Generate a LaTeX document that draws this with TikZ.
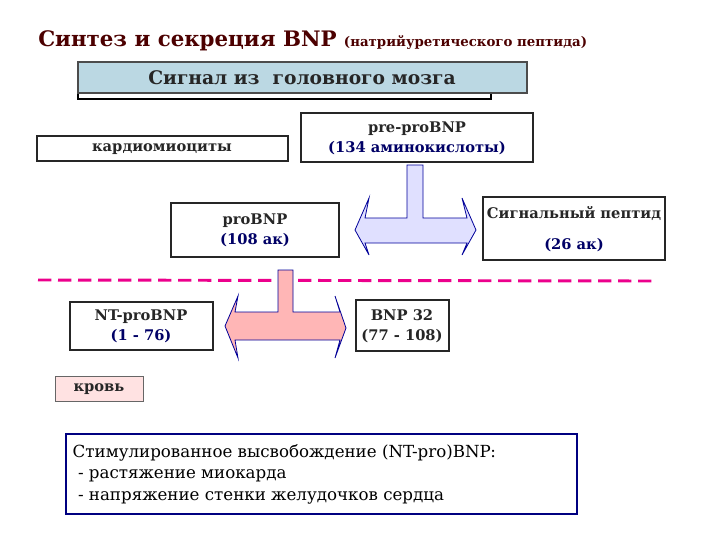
\documentclass[tikz,border=0pt]{standalone}
\usepackage{fontspec}
\setmainfont{DejaVu Serif}
\begin{document}
\begin{tikzpicture}[x=0.75pt,y=-0.75pt,
  bx/.style={draw=black!85,line width=0.8pt,fill=white},
  lbl/.style={font=\fontsize{11}{13}\selectfont\bfseries,align=center,text=black!85},
  nv/.style={text=blue!40!black}]
\useasboundingbox (0,0) rectangle (720,540);
\node[anchor=base west,text=red!30!black,inner sep=0] (t) at (38,46) {\fontsize{16}{18}\selectfont\bfseries Синтез и секреция BNP \fontsize{10}{12}\selectfont(натрийуретического пептида)};
% signal box
\draw[line width=0.8pt] (78,62) rectangle (491,99);
\filldraw[fill=cyan!25!teal!30,draw=black!70,line width=0.8pt] (78,62) rectangle (527,93);
\node[lbl,font=\fontsize{14}{16}\selectfont\bfseries] (sig) at (302,78) {Сигнал из\ \ головного мозга};
\draw[bx] (37,136) rectangle (288,161);
\node[lbl] (kard) at (162,149) {кардиомиоциты};
\draw[bx] (301,113) rectangle (533,162);
\node[lbl] (pre) at (417,138) {pre-proBNP\\[2pt]{\color{blue!40!black}(134 аминокислоты)}};
% blue arrow
\filldraw[fill=blue!12,draw=blue!60!black,line width=0.6pt]
 (407,165) -- (423,165) -- (423,218) -- (467,218) -- (462,198) -- (476,230) -- (462,255) -- (467,243)
 -- (365,243) -- (369,255) -- (355,230) -- (369,198) -- (365,218) -- (407,218) -- cycle;
\draw[bx] (171,203) rectangle (339,257);
\node[lbl] (pro) at (255,230) {proBNP\\[2pt]{\color{blue!40!black}(108 ак)}};
\draw[bx] (483,197) rectangle (665,260);
\node[lbl] (sp) at (574,229) {Сигнальный пептид\\[10pt]{\color{blue!40!black}(26 ак)}};
% dashed line
\draw[magenta,line width=2.2pt,dash pattern=on 10pt off 5pt] (38,280) -- (655,281);
% pink arrow
\filldraw[fill=pink!70!red!60,draw=blue!60!black,line width=0.6pt]
 (278,270) -- (293,270) -- (293,312) -- (340,312) -- (335,296) -- (346,328) -- (335,358) -- (340,340)
 -- (235,340) -- (238,358) -- (225,326) -- (238,296) -- (235,312) -- (278,312) -- cycle;
\draw[bx] (70,302) rectangle (213,350);
\node[lbl] (nt) at (141,326) {NT-proBNP\\[2pt]{\color{blue!40!black}(1 - 76)}};
\draw[bx] (356,300) rectangle (449,351);
\node[lbl] (bnp) at (402,326) {BNP 32\\[2pt](77 - 108)};
\filldraw[fill=pink!45,draw=black!60,line width=0.6pt] (55,376) rectangle (143,401);
\node[lbl] (kr) at (99,389) {кровь};
\draw[bx,draw=blue!50!black] (66,434) rectangle (577,514);
\node[align=left,anchor=north west,font=\fontsize{12.5}{16}\selectfont,text=black] (st) at (68,440) {Стимулированное высвобождение (NT-pro)BNP:\\
\ - растяжение миокарда\\
\ - напряжение стенки желудочков сердца};
\end{tikzpicture}
\end{document}
